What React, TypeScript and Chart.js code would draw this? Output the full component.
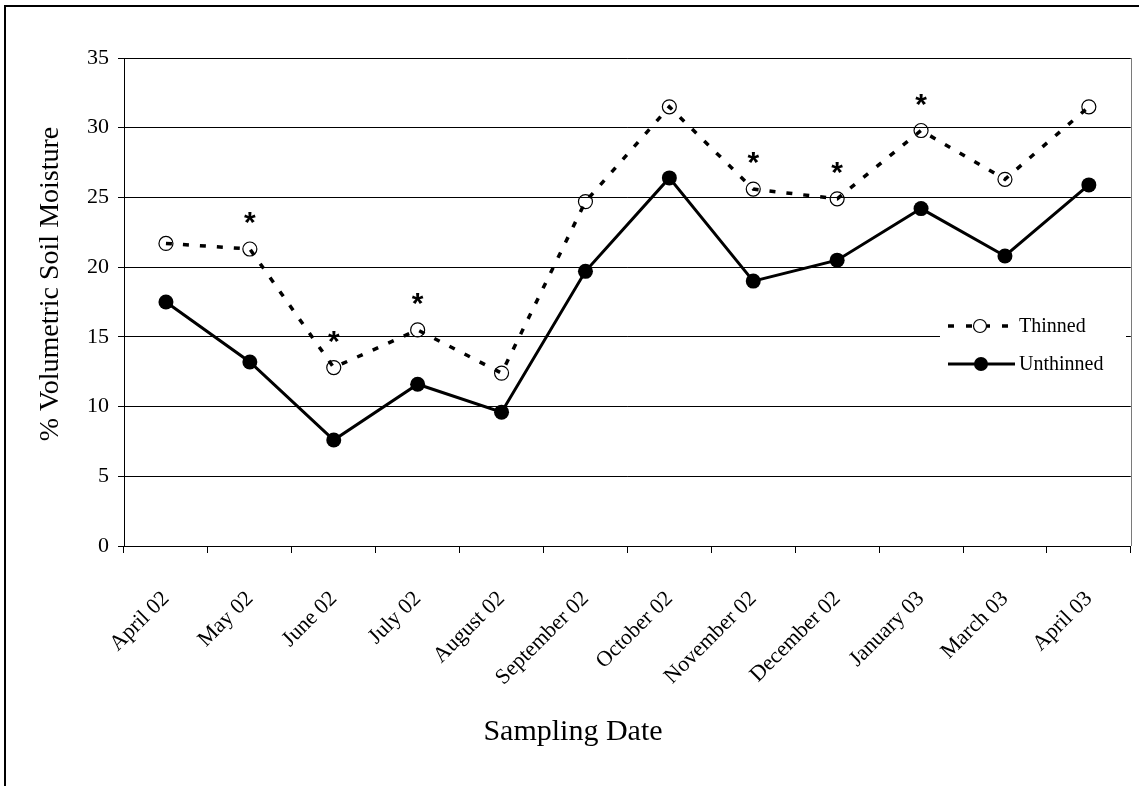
import React, { useEffect, useRef } from "react";
import { Chart, registerables } from "chart.js";

Chart.register(...registerables);

// Sampling dates (category axis)
const samplingDates = [
  "April 02",
  "May 02",
  "June 02",
  "July 02",
  "August 02",
  "September 02",
  "October 02",
  "November 02",
  "December 02",
  "January 03",
  "March 03",
  "April 03",
];

// % volumetric soil moisture per treatment
const thinned = [21.7, 21.3, 12.8, 15.5, 12.4, 24.7, 31.5, 25.6, 24.9, 29.8, 26.3, 31.5];
const unthinned = [17.5, 13.2, 7.6, 11.6, 9.6, 19.7, 26.4, 19.0, 20.5, 24.2, 20.8, 25.9];

// Dates where the treatments differ significantly (marked with *)
const significant = [false, true, true, true, false, false, false, true, true, true, false, false];

const yTicks = [0, 5, 10, 15, 20, 25, 30, 35];

const xTitle = "Sampling Date";
const yTitle = "% Volumetric Soil Moisture";
const legendLabels = ["Thinned", "Unthinned"];

const SERIF = "'Liberation Serif', 'Times New Roman', serif";

// Frame, plot border, axis titles, asterisks and the in-plot legend
const decorations = {
  id: "decorations",
  beforeDraw(chart: any) {
    const { ctx } = chart;
    ctx.save();
    ctx.fillStyle = "#fff";
    ctx.fillRect(0, 0, chart.width, chart.height);
    ctx.strokeStyle = "#000";
    ctx.lineWidth = 2;
    ctx.beginPath();
    ctx.moveTo(5, chart.height + 5);
    ctx.lineTo(5, 6);
    ctx.lineTo(chart.width + 5, 6);
    ctx.stroke();
    ctx.restore();
  },
  afterDatasetsDraw(chart: any) {
    const { ctx, chartArea } = chart;
    const xs = chart.scales.x;
    const ys = chart.scales.y;
    ctx.save();
    // right edge of plot area
    ctx.strokeStyle = "#7a7a7a";
    ctx.lineWidth = 1;
    ctx.beginPath();
    ctx.moveTo(Math.round(chartArea.right) + 0.5, chartArea.top);
    ctx.lineTo(Math.round(chartArea.right) + 0.5, chartArea.bottom);
    ctx.stroke();

    // significance asterisks above the thinned series
    ctx.fillStyle = "#000";
    ctx.font = "bold 30px 'Liberation Sans', Arial, sans-serif";
    ctx.textAlign = "center";
    ctx.textBaseline = "alphabetic";
    significant.forEach((s, i) => {
      if (!s) return;
      const px = xs.getPixelForValue(i);
      const py = ys.getPixelForValue(thinned[i]);
      ctx.fillText("*", px, py - 17);
    });

    // legend box inside the plot
    ctx.fillStyle = "#fff";
    ctx.fillRect(940, 310, 186, 72);
    const row1 = 326;
    const row2 = 364;
    ctx.strokeStyle = "#000";
    ctx.lineWidth = 3.5;
    ctx.setLineDash([6, 12]);
    ctx.beginPath();
    ctx.moveTo(948, row1);
    ctx.lineTo(1012, row1);
    ctx.stroke();
    ctx.setLineDash([]);
    ctx.lineWidth = 1.2;
    ctx.beginPath();
    ctx.arc(980, row1, 6.5, 0, Math.PI * 2);
    ctx.fillStyle = "#fff";
    ctx.fill();
    ctx.stroke();

    ctx.lineWidth = 3;
    ctx.beginPath();
    ctx.moveTo(948, row2);
    ctx.lineTo(1015, row2);
    ctx.stroke();
    ctx.fillStyle = "#000";
    ctx.beginPath();
    ctx.arc(981, row2, 7, 0, Math.PI * 2);
    ctx.fill();

    ctx.font = `20px ${SERIF}`;
    ctx.textAlign = "left";
    ctx.textBaseline = "middle";
    ctx.fillText(legendLabels[0], 1019, row1 + 1);
    ctx.fillText(legendLabels[1], 1019, row2 + 1);

    // axis titles
    ctx.textAlign = "center";
    ctx.textBaseline = "alphabetic";
    ctx.font = `30px ${SERIF}`;
    ctx.fillText(xTitle, 573, 740);
    ctx.font = `28px ${SERIF}`;
    ctx.translate(58, 284);
    ctx.rotate(-Math.PI / 2);
    ctx.fillText(yTitle, 0, 0);
    ctx.restore();
  },
};

export default function App() {
  const canvasRef = useRef<HTMLCanvasElement | null>(null);

  useEffect(() => {
    if (!canvasRef.current) return;
    const chart = new Chart(canvasRef.current, {
      type: "line",
      data: {
        labels: samplingDates,
        datasets: [
          {
            label: legendLabels[0],
            data: thinned,
            borderColor: "#000",
            borderWidth: 3.5,
            borderDash: [6, 11],
            pointRadius: 7,
            pointBorderWidth: 1.2,
            pointBorderColor: "#000",
            pointBackgroundColor: "rgba(0,0,0,0)",
            tension: 0,
          },
          {
            label: legendLabels[1],
            data: unthinned,
            borderColor: "#000",
            borderWidth: 3,
            pointRadius: 7.5,
            pointBorderWidth: 0,
            pointBackgroundColor: "#000",
            tension: 0,
          },
        ],
      },
      options: {
        responsive: false,
        animation: false,
        layout: { padding: { top: 58, right: 6, left: 0, bottom: 0 } },
        plugins: {
          legend: { display: false },
          tooltip: { enabled: false },
        },
        scales: {
          x: {
            offset: true,
            grid: {
              display: true,
              offset: true,
              drawOnChartArea: false,
              drawTicks: true,
              tickLength: 7,
              color: "#000",
            },
            border: { display: true, color: "#000", width: 1 },
            ticks: {
              color: "#000",
              font: { family: SERIF, size: 22 },
              minRotation: 45,
              maxRotation: 45,
              padding: 33,
              autoSkip: false,
            },
            afterFit: (scale: any) => {
              scale.height = 240;
              scale.paddingLeft = 0;
              scale.paddingRight = 0;
            },
          },
          y: {
            min: 0,
            max: 35,
            afterBuildTicks: (scale: any) => {
              scale.ticks = yTicks.map((v) => ({ value: v }));
            },
            grid: {
              color: "#000",
              lineWidth: 1,
              drawTicks: true,
              tickLength: 6,
            },
            border: { display: true, color: "#000", width: 1 },
            ticks: {
              color: "#000",
              font: { family: SERIF, size: 22 },
              padding: 9,
            },
            afterFit: (scale: any) => {
              scale.width = 124;
              scale.paddingTop = 0;
              scale.paddingBottom = 0;
            },
          },
        },
      },
      plugins: [decorations],
    });
    return () => chart.destroy();
  }, []);

  return (
    <div style={{ position: "fixed", left: 0, top: 0, width: 1139, height: 786, background: "#fff" }}>
      <canvas ref={canvasRef} width={1139} height={786} style={{ display: "block" }} />
    </div>
  );
}
